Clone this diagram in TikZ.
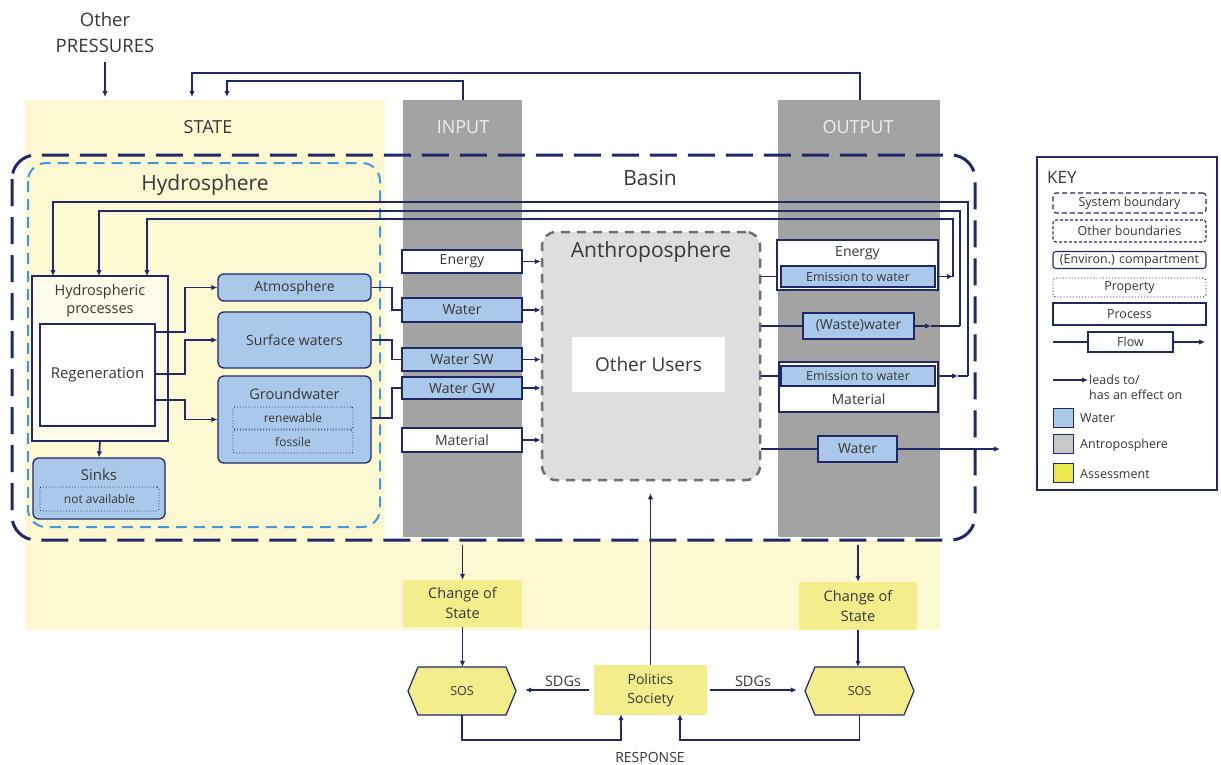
\documentclass[tikz,border=0pt]{standalone}
\usepackage{fontspec}
\setmainfont{Open Sans}
\usetikzlibrary{arrows.meta,calc}
\definecolor{navy}{RGB}{32,40,104}
\definecolor{wblue}{RGB}{170,200,234}
\definecolor{paley}{RGB}{252,248,210}
\definecolor{boxy}{RGB}{243,237,140}
\definecolor{colgray}{RGB}{163,163,163}
\definecolor{anthgray}{RGB}{222,222,222}
\definecolor{anthline}{RGB}{110,110,110}
\definecolor{hblue}{RGB}{70,150,222}
\definecolor{txt}{RGB}{55,55,55}
\definecolor{coltxt}{RGB}{238,238,238}
\definecolor{swgray}{RGB}{200,200,200}
\definecolor{swyellow}{RGB}{236,230,80}
\newcommand{\fsize}[2]{\fontsize{#1}{#2}\selectfont}
\begin{document}
\begin{tikzpicture}[x=1pt,y=-1pt,
  every node/.style={text=txt, inner sep=1pt},
  ln/.style={draw=navy, line width=1.7pt},
  arr/.style={ln, -{Latex[length=6pt,width=5.5pt]}},
  proc/.style={draw=navy, line width=1.1pt, fill=white, font=\fsize{14}{17}},
  wproc/.style={proc, fill=wblue},
  comp/.style={draw=navy, line width=1.3pt, fill=wblue, rounded corners=6pt, font=\fsize{14}{17}},
  prop/.style={draw=navy, line width=0.9pt, dotted, rounded corners=2pt, font=\fsize{12}{14}},
  assess/.style={fill=boxy, align=center, font=\fsize{14.5}{20}},
  keybox/.style={draw=navy, line width=1.1pt, minimum width=153pt, font=\fsize{12.5}{14}},
  keytxt/.style={anchor=west, font=\fsize{12.5}{14}},
  swatch/.style={draw=navy, line width=1pt, minimum width=20pt, minimum height=19pt},
  hexa/.style={draw=navy, line width=1.2pt, fill=boxy}
  ]
\fill[white] (0,0) rectangle (1221,764);
\useasboundingbox (0,0) rectangle (1221,764);
% backgrounds
\fill[paley] (25,100) rectangle (385,540);
\fill[paley] (25,540) rectangle (940,630);
\fill[colgray] (403,100) rectangle (522,537);
\fill[colgray] (778,100) rectangle (940,537);
% header labels
\node[font=\fsize{18}{20}] (state) at (208,127) {STATE};
\node[font=\fsize{18}{20}, text=coltxt] (input) at (463,127) {INPUT};
\node[font=\fsize{18}{20}, text=coltxt] (output) at (858,127) {OUTPUT};
\node[align=center, font=\fsize{18.5}{26}] (press) at (105,33) {Other\\PRESSURES};
% boundaries
\draw[navy, line width=3pt, dash pattern=on 27pt off 11pt, rounded corners=24pt] (12,155) rectangle (975,540);
\draw[hblue, line width=2pt, dash pattern=on 11pt off 7pt, rounded corners=18pt] (28,163) rectangle (380,527);
\node[font=\fsize{21}{24}] (hydro) at (205,185) {Hydrosphere};
\node[font=\fsize{21}{24}] (basin) at (650,178) {Basin};
% anthroposphere
\node[draw=anthline, fill=anthgray, line width=2.5pt, dash pattern=on 9pt off 7pt, rounded corners=14pt, minimum width=218pt, minimum height=248pt] (anth) at (651,356) {};
\node[font=\fsize{21}{24}] (anthl) at (651,252) {Anthroposphere};
\node[fill=white, minimum width=153pt, minimum height=55pt, font=\fsize{19}{22}] (users) at (648.5,364.5) {Other Users};
% top feedback
\coordinate (stA) at (227,97);
\coordinate (stB) at (192,97);
\coordinate (inTop) at (463,100);
\coordinate (outTop) at (860,100);
\coordinate (prA) at (105,97);
\draw[arr] (inTop) -- (463,81) -| (stA);
\draw[arr] (outTop) -- (860,73) -| (stB);
\draw[arr, shorten <=8pt] (press.south) -- (prA);
% hydrosphere internals
\node[draw=navy, line width=1.1pt, fill=white, fill opacity=0.55, minimum width=136pt, minimum height=165pt] (hp) at (100,358.5) {};
\node[align=center, font=\fsize{14.5}{18}] (hpt) at (100,301) {Hydrospheric\\processes};
\node[fill=white, draw=navy, line width=1.1pt, minimum width=115pt, minimum height=102pt, font=\fsize{15}{18}] (regen) at (97.5,375) {Regeneration};
\node[comp, minimum width=153pt, minimum height=27pt] (atm) at (294.5,287.5) {Atmosphere};
\node[comp, minimum width=153pt, minimum height=56pt] (sw) at (294.5,340) {Surface waters};
\node[comp, minimum width=153pt, minimum height=87pt] (gw) at (294.5,419.5) {};
\node[font=\fsize{14.5}{17}] (gwl) at (294.5,394) {Groundwater};
\node[prop, minimum width=120pt, minimum height=22pt] (ren) at (293,418) {renewable};
\node[prop, minimum width=120pt, minimum height=23pt] (fos) at (293,441.5) {fossile};
\node[comp, minimum width=132pt, minimum height=61pt] (sinks) at (99,488.5) {};
\node[font=\fsize{15}{18}] (sinksl) at (99,475) {Sinks};
\node[prop, minimum width=119pt, minimum height=24pt] (na) at (99.5,499) {not available};
\draw[arr] (regen.east |- 0,332) -- (185,332) |- (atm.west);
\draw[arr] (regen.east |- 0,374) -- (185,374) |- (sw.west);
\draw[arr] (regen.east |- 0,400) -- (185,400) |- (gw.west);
\draw[arr] (hp.south) -- (sinks.north);
% inputs
\node[proc, minimum width=120pt, minimum height=23pt] (inE) at (462,261.5) {Energy};
\node[wproc, minimum width=120pt, minimum height=24pt] (inW) at (462,310) {Water};
\node[wproc, minimum width=120pt, minimum height=23pt] (inSW) at (462,359.5) {Water SW};
\node[wproc, minimum width=120pt, minimum height=22pt] (inGW) at (462,388) {Water GW};
\node[proc, minimum width=120pt, minimum height=24pt] (inM) at (462,440) {Material};
\draw[ln] (atm.east) -- (392,287.5) |- (inW.west);
\draw[ln] (sw.east) -- (392,340) |- (inSW.west);
\draw[ln] (gw.east |- 0,418) -- (392,418) |- (inGW.west);
\foreach \n in {inE,inW,inSW,inGW,inM}{
  \draw[arr] (\n.east) -- (\n.east -| anth.west);
}
% outputs
\node[proc, minimum width=161pt, minimum height=50pt] (oE) at (857.5,265) {};
\node[font=\fsize{14}{17}] (oEl) at (857.5,253) {Energy};
\node[wproc, minimum width=154pt, minimum height=21pt, font=\fsize{12.5}{14}] (em1) at (858,276.5) {Emission to water};
\node[wproc, minimum width=111pt, minimum height=26pt] (ww) at (858.5,326) {(Waste)water};
\node[proc, minimum width=159pt, minimum height=50pt] (oM) at (858.5,387) {};
\node[wproc, minimum width=154pt, minimum height=20pt, font=\fsize{12.5}{14}] (em2) at (858,376) {Emission to water};
\node[font=\fsize{14}{17}] (oMl) at (858.5,399) {Material};
\node[wproc, minimum width=79pt, minimum height=26pt] (oW) at (857.5,449) {Water};
\draw[ln] (anth.east |- em1) -- (oE.west |- em1);
\draw[ln] (anth.east |- ww) -- (ww.west);
\draw[ln] (anth.east |- em2) -- (oM.west |- em2);
\draw[ln] (anth.east |- oW) -- (oW.west);
\coordinate (wEnd) at (1000,449);
\draw[arr] (oW.east) -- (wEnd);
% feedback to hydrospheric processes
\coordinate (j1) at (953,276.5);
\coordinate (j2) at (960,326);
\coordinate (j3) at (968,376);
\coordinate (m2) at (931,326);
\coordinate (m3) at (958,376);
\coordinate (h1) at (147,276);
\coordinate (h2) at (99,276);
\coordinate (h3) at (53,276);
\draw[arr] (oE.east |- em1) -- (j1);
\draw[arr] (j1) -- (953,219) -| (h1);
\draw[arr] (ww.east) -- (m2);
\draw[ln] (m2) -- (j2);
\draw[arr] (j2) -- (960,211) -| (h2);
\draw[arr] (oM.east |- em2) -- (m3);
\draw[ln] (m3) -- (j3);
\draw[arr] (j3) -- (968,202) -| (h3);
% bottom: assessment
\coordinate (inBot) at (462.5,545);
\coordinate (outBot) at (858,545);
\node[assess, minimum width=119pt, minimum height=47pt] (cosL) at (462.5,603.5) {Change of\\State};
\node[assess, minimum width=118pt, minimum height=48pt] (cosR) at (858,606) {Change of\\State};
\draw[hexa] (418,667) -- (506,667) -- (516,691) -- (506,715) -- (418,715) -- (408,691) -- cycle;
\node[minimum width=108pt, minimum height=48pt, font=\fsize{12.5}{14}] (sosL) at (462,691) {SOS};
\draw[hexa] (815,667) -- (904,667) -- (914,691) -- (904,715) -- (815,715) -- (805,691) -- cycle;
\node[minimum width=109pt, minimum height=48pt, font=\fsize{12.5}{14}] (sosR) at (859.5,691) {SOS};
\node[assess, minimum width=113pt, minimum height=50pt, font=\fsize{14}{19}] (pol) at (650.5,690) {Politics\\Society};
\draw[arr] (inBot) -- (inBot |- cosL.north);
\draw[arr] (outBot) -- (outBot |- cosR.north);
\draw[arr] (cosL.south) -- (cosL.south |- sosL.north);
\draw[arr] (cosR.south) -- (cosR.south |- sosR.north);
\draw[arr, shorten <=5pt, shorten >=9pt] (pol.west) -- (pol.west -| sosL.east);
\draw[arr, shorten <=3pt, shorten >=8pt] (pol.east) -- (pol.east -| sosR.west);
\node[font=\fsize{14.5}{17}] (sdgL) at (563,681) {SDGs};
\node[font=\fsize{14.5}{17}] (sdgR) at (753,681) {SDGs};
\draw[arr, shorten >=12pt] (pol.north) -- (pol.north |- anth.south);
\draw[arr, shorten >=-1pt] (sosL.south) -- (462,740) -| (pol.south -| 621,0);
\draw[arr, shorten >=-1pt] (sosR.south) -- (859.5,740) -| (pol.south -| 680,0);
\node[font=\fsize{14}{17}] (resp) at (650,757) {RESPONSE};
% key
\node[draw=navy, line width=2.5pt, fill=white, minimum width=180pt, minimum height=333pt] (key) at (1127,323.5) {};
\node[anchor=west, font=\fsize{17}{20}] (keyl) at (1046,177) {KEY};
\node[keybox, dash pattern=on 5pt off 3pt, rounded corners=3pt, minimum height=20pt] (k1) at (1129.5,203) {System boundary};
\node[keybox, dash pattern=on 3pt off 2pt, rounded corners=3pt, minimum height=22pt] (k2) at (1129.5,231) {Other boundaries};
\node[keybox, rounded corners=3pt, minimum height=17pt] (k3) at (1129.5,260) {(Environ.) compartment};
\node[keybox, dotted, line width=0.9pt, rounded corners=3pt, minimum height=19pt] (k4) at (1129.5,287.5) {Property};
\node[keybox, minimum height=22pt] (k5) at (1129.5,314) {Process};
\node[keybox, minimum width=85pt, minimum height=20pt] (k6) at (1130.5,342) {Flow};
\coordinate (k6a) at (1053,342);
\coordinate (k6b) at (1205,342);
\draw[ln, line width=1.1pt] (k6a) -- (k6.west);
\draw[arr, line width=1.1pt] (k6.east) -- (k6b);
\coordinate (k7a) at (1053,380);
\node[keytxt] (k7) at (1088,380) {leads to/};
\node[keytxt] (k7b) at (1088,395) {has an effect on};
\draw[arr, line width=1.1pt] (k7a) -- (k7.west);
\node[swatch, fill=wblue] (s1) at (1063,417.5) {};
\node[keytxt] (s1l) at (1079,418) {Water};
\node[swatch, fill=swgray] (s2) at (1063,444) {};
\node[keytxt] (s2l) at (1079,445) {Antroposphere};
\node[swatch, fill=swyellow] (s3) at (1063,473) {};
\node[keytxt] (s3l) at (1079,474) {Assessment};
\end{tikzpicture}
\end{document}
